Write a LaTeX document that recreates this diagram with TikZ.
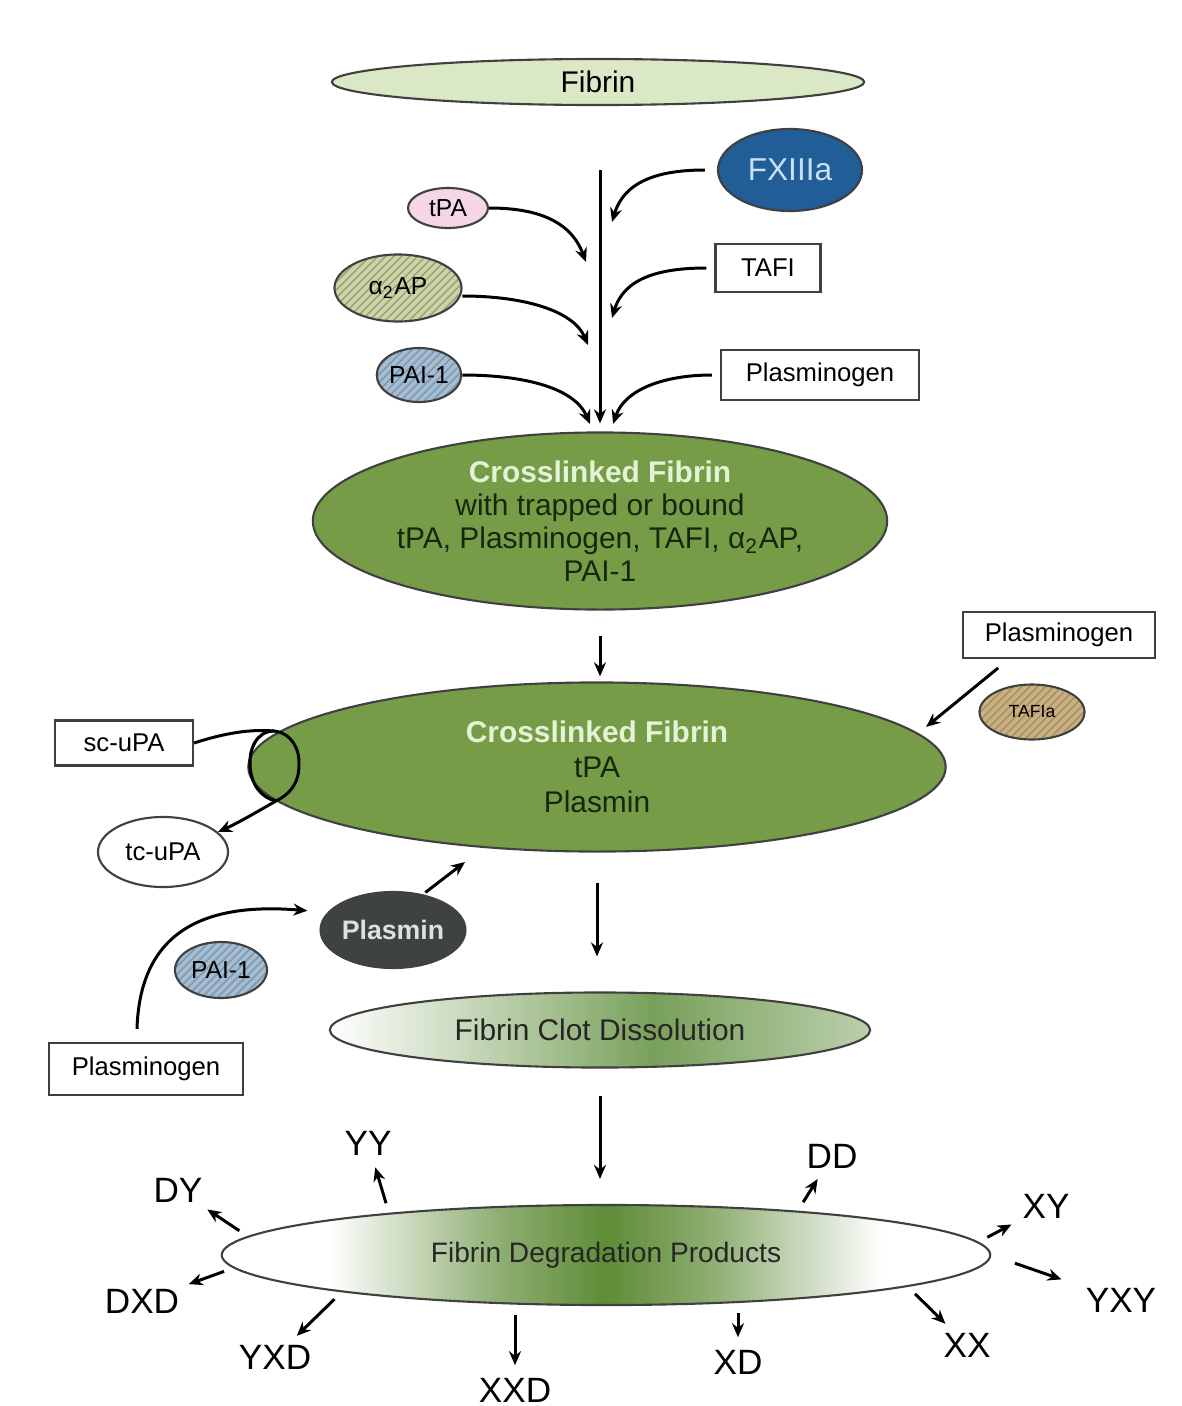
\documentclass[tikz,border=0pt]{standalone}
\usepackage{fontspec}
\setmainfont{Liberation Sans}
\usepackage{tikz}
\usetikzlibrary{arrows.meta,shapes.geometric,patterns.meta}
\definecolor{fibrinlight}{RGB}{218,232,198}
\definecolor{xgreen}{RGB}{118,156,72}
\definecolor{xtitle}{RGB}{228,242,215}
\definecolor{xbody}{RGB}{22,40,12}
\definecolor{fxblue}{RGB}{33,93,150}
\definecolor{fxtext}{RGB}{200,225,245}
\definecolor{tpapink}{RGB}{244,214,230}
\definecolor{aapgreen}{RGB}{206,214,160}
\definecolor{paiblue}{RGB}{160,190,215}
\definecolor{tafitan}{RGB}{205,178,120}
\definecolor{plasmingray}{RGB}{62,66,66}
\definecolor{dissgreen}{RGB}{120,160,90}
\definecolor{fdpgreen}{RGB}{95,140,55}
\pgfdeclarehorizontalshading{dissshade}{100bp}{color(0bp)=(white); color(25bp)=(white); color(42bp)=(dissgreen!55); color(55bp)=(dissgreen); color(75bp)=(dissgreen!50); color(100bp)=(dissgreen!50)}
\pgfdeclarehorizontalshading{fdpshade}{100bp}{color(0bp)=(white); color(32bp)=(white); color(43bp)=(fdpgreen!70); color(50bp)=(fdpgreen); color(57bp)=(fdpgreen!70); color(68bp)=(white); color(100bp)=(white)}
\tikzset{
  blob/.style={ellipse, draw=black!75, line width=0.6pt, inner sep=0pt, align=center,
    font=\fontsize{8.5}{9.4}\selectfont},
  tag/.style={rectangle, draw=black!75, line width=0.6pt, fill=white, inner sep=0pt,
    font=\fontsize{7.3}{9}\selectfont},
  hatch/.style={preaction={fill=#1}, pattern={Lines[angle=45,distance=1.6pt,line width=0.45pt]},
    pattern color=#1!55!black!70},
  arr/.style={-{Stealth[length=1.4mm,width=1.2mm]}, line width=0.85pt},
  prodarr/.style={arr, shorten <=0.1cm, shorten >=0.12cm},
  prod/.style={inner sep=0pt, font=\fontsize{10}{12}\selectfont},
}
\begin{document}
\begin{tikzpicture}[x=0.01cm,y=-0.01cm]
\useasboundingbox (0,0) rectangle (1181,1406);
% fibrin and the factors acting on it
\node[blob, fill=fibrinlight, minimum width=5.32cm, minimum height=0.46cm] (fibrin) at (598,82) {Fibrin};
\node[blob, fill=fxblue, text=fxtext, minimum width=1.44cm, minimum height=0.82cm, font=\fontsize{9}{11}\selectfont] (fxiii) at (790,170) {FXIIIa};
\node[blob, fill=tpapink, minimum width=0.8cm, minimum height=0.4cm, font=\fontsize{7}{8}\selectfont] (tpa) at (448,208) {tPA};
\node[blob, hatch=aapgreen, minimum width=1.27cm, minimum height=0.67cm, font=\fontsize{7}{8}\selectfont] (aap) at (398,288) {α\textsubscript{2}AP};
\node[blob, hatch=paiblue, minimum width=0.82cm, minimum height=0.54cm, font=\fontsize{7}{8}\selectfont] (pai) at (419,375) {PAI-1};
\node[tag, minimum width=1.05cm, minimum height=0.48cm] (tafi) at (768,268) {TAFI};
\node[tag, minimum width=1.98cm, minimum height=0.5cm] (plgtop) at (820,375) {Plasminogen};
\node[blob, fill=xgreen, text=xbody, minimum width=5.42cm, minimum height=1.77cm] (xfib) at (600,521)
  {\textcolor{xtitle}{\textbf{Crosslinked Fibrin}}\\with trapped or bound\\tPA, Plasminogen, TAFI, α\textsubscript{2}AP,\\PAI-1};
\coordinate (vtop) at (600,170);
\coordinate (tpaend) at (586,262);
\coordinate (aapend) at (588,345);
\coordinate (paiend) at (590,424);
\coordinate (fxend) at (612,222);
\coordinate (tafiend) at (612,318);
\coordinate (plgend) at (613,424);
\draw[arr] (vtop) -- (xfib) [shorten >=0.08cm];
\draw[arr] (tpa.east) .. controls +(50,0) and +(-15,-40) .. (tpaend);
\draw[arr] ([yshift=-0.08cm]aap.east) .. controls +(60,0) and +(-15,-35) .. (aapend);
\draw[arr] (pai.east) .. controls +(65,0) and +(-15,-35) .. (paiend);
\draw[arr, shorten <=0.12cm] (fxiii.west) .. controls +(-60,0) and +(12,-40) .. (fxend);
\draw[arr, shorten <=0.08cm] (tafi.west) .. controls +(-55,0) and +(12,-40) .. (tafiend);
\draw[arr, shorten <=0.08cm] (plgtop.west) .. controls +(-55,0) and +(12,-35) .. (plgend);
% activation on the crosslinked clot
\node[blob, fill=xgreen, text=xbody, minimum width=6.97cm, minimum height=1.69cm, font=\fontsize{8.5}{9.9}\selectfont] (xfibp) at (597,767)
  {\textcolor{xtitle}{\textbf{Crosslinked Fibrin}}\\tPA\\Plasmin};
\draw[arr, shorten <=0.25cm, shorten >=0.05cm] (xfib.south) -- (xfib.south |- xfibp.north);
\node[tag, minimum width=1.92cm, minimum height=0.46cm] (plgr) at (1059,635) {Plasminogen};
\node[blob, hatch=tafitan, minimum width=1.05cm, minimum height=0.55cm, font=\fontsize{5}{6}\selectfont] (tafia) at (1032,712) {TAFIa};
\draw[arr, shorten <=0.14cm, shorten >=0.1cm] ([xshift=-0.5cm]plgr.south) -- (xfibp.6);
\node[tag, minimum width=1.38cm, minimum height=0.45cm] (scupa) at (124,743) {sc-uPA};
\node[blob, fill=white, minimum width=1.3cm, minimum height=0.7cm, font=\fontsize{7.3}{9}\selectfont] (tcupa) at (163,852) {tc-uPA};
\draw[line width=0.9pt] (274,731) .. controls (256,731) and (249,750) .. (250,766)
  .. controls (251,785) and (262,798) .. (276,801);
\draw[arr] (scupa.east) .. controls (225,733) and (250,729) .. (274,731)
  .. controls (292,733) and (300,750) .. (299,765)
  .. controls (299,785) and (288,795) .. (276,801)
  .. controls (260,810) and (240,822) .. (tcupa.20);
\node[blob, fill=plasmingray, text=white!88!black, minimum width=1.3cm, minimum height=0.76cm, font=\fontsize{7.6}{9}\selectfont\bfseries] (plasmin) at (393,930) {Plasmin};
\coordinate (plasmintip) at (465,862);
\draw[arr, shorten <=0.03cm] (plasmin.50) -- (plasmintip);
\node[blob, hatch=paiblue, minimum width=0.92cm, minimum height=0.56cm, font=\fontsize{7}{8}\selectfont] (pai2) at (221,970) {PAI-1};
\node[tag, minimum width=1.94cm, minimum height=0.52cm] (plgl) at (146,1069) {Plasminogen};
\draw[arr, shorten >=0.2cm] ([xshift=-0.09cm,yshift=0.13cm]plgl.north) .. controls +(3,-100) and +(-120,-10) .. (plasmin.165);
% dissolution and degradation products
\node[blob, shading=dissshade, text=black!85, minimum width=5.4cm, minimum height=0.75cm] (diss) at (600,1030) {Fibrin Clot Dissolution};
\draw[arr, shorten <=0.3cm, shorten >=0.35cm] (xfibp.south) -- (xfibp.south |- diss.north);
\node[blob, shading=fdpshade, text=black!85, minimum width=7.68cm, minimum height=1.0cm, font=\fontsize{8}{9}\selectfont] (fdp) at (606,1255) {Fibrin Degradation Products};
\draw[arr, shorten <=0.27cm, shorten >=0.25cm] (diss.south) -- (diss.south |- fdp.north);
\node[prod] (yy) at (368,1143) {YY};
\node[prod] (dy) at (178,1190) {DY};
\node[prod] (dxd) at (142,1301) {DXD};
\node[prod] (yxd) at (275,1357) {YXD};
\node[prod] (xxd) at (515,1390) {XXD};
\node[prod] (xd) at (738,1362) {XD};
\node[prod] (xx) at (967,1345) {XX};
\node[prod] (yxy) at (1121,1300) {YXY};
\node[prod] (xy) at (1046,1206) {XY};
\node[prod] (dd) at (832,1156) {DD};
\draw[prodarr] (fdp.169) -- (yy);
\draw[prodarr] (fdp.177) -- (dy);
\draw[prodarr] (fdp.182) -- (dxd);
\draw[prodarr] (fdp.188) -- (yxd);
\draw[prodarr] (fdp.208 -| xxd) -- (xxd);
\draw[prodarr] (fdp.340 -| xd) -- (xd);
\draw[prodarr] (fdp.354) -- (xx);
\draw[prodarr, shorten <=0.25cm, shorten >=0.25cm] (fdp.0) -- (yxy);
\draw[prodarr] (fdp.2) -- (xy);
\draw[prodarr] (fdp.13) -- (dd);
\end{tikzpicture}
\end{document}
